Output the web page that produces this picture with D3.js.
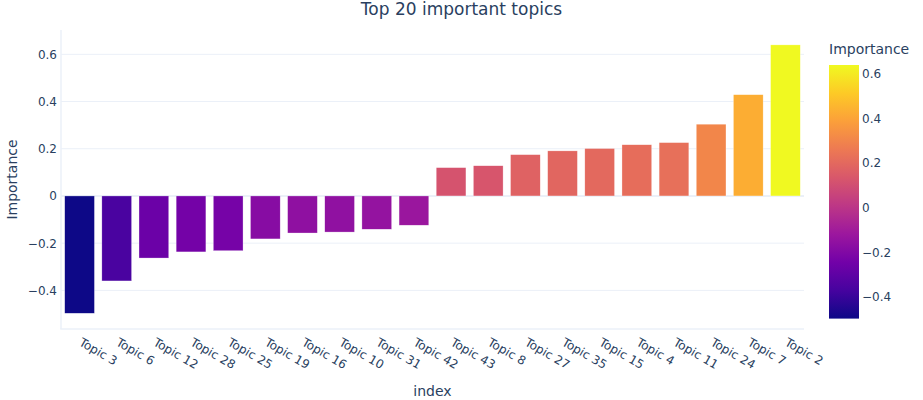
<!DOCTYPE html>
<html>
<head>
<meta charset="utf-8">
<script src="https://cdn.jsdelivr.net/npm/d3@7"></script>
<style>
  html, body { margin: 0; padding: 0; background: #fff; }
  svg { display: block; }
  text { font-family: "DejaVu Sans", Verdana, Arial, sans-serif; fill: #2a3f5f; }
</style>
</head>
<body>
<svg id="chart" width="923" height="400"></svg>
<script>
const topics = ["Topic 3","Topic 6","Topic 12","Topic 28","Topic 25","Topic 19","Topic 16","Topic 10","Topic 31","Topic 42",
                "Topic 43","Topic 8","Topic 27","Topic 35","Topic 15","Topic 4","Topic 11","Topic 24","Topic 7","Topic 2"];
const importance = [-0.497,-0.360,-0.263,-0.237,-0.232,-0.182,-0.157,-0.153,-0.141,-0.124,
                    0.120,0.128,0.175,0.191,0.201,0.217,0.226,0.304,0.429,0.640];
const yTicks = [-0.4,-0.2,0,0.2,0.4,0.6];
const cbTicks = [-0.4,-0.2,0,0.2,0.4,0.6];
const plasma = ["#0d0887","#46039f","#7201a8","#9c179e","#bd3786","#d8576b","#ed7953","#fb9f3a","#fdca26","#f0f921"];

const svg = d3.select("#chart");
const L = 61, R = 804, T = 30, B = 329;

const x = d3.scaleBand().domain(topics).range([L, R]).paddingInner(0.2).paddingOuter(0.1);
const y = d3.scaleLinear().domain([-0.5636, 0.703]).range([B, T]);

const cmin = d3.min(importance), cmax = d3.max(importance);
const stops = plasma.map((c, i) => cmin + (cmax - cmin) * i / (plasma.length - 1));
const color = d3.scaleLinear().domain(stops).range(plasma).interpolate(d3.interpolateRgb).clamp(true);

const fmt = v => v === 0 ? "0" : d3.format(".1f")(v).replace("-", "\u2212");

// gridlines
svg.append("g").selectAll("line").data(yTicks.filter(v => v !== 0)).join("line")
  .attr("x1", L).attr("x2", R)
  .attr("y1", d => y(d)).attr("y2", d => y(d))
  .attr("stroke", "#EBF0F8").attr("stroke-width", 1);

// zero line
svg.append("line").attr("x1", L).attr("x2", R).attr("y1", y(0)).attr("y2", y(0))
  .attr("stroke", "#EBF0F8").attr("stroke-width", 2);

// axis lines
svg.append("line").attr("x1", L).attr("x2", L).attr("y1", T).attr("y2", B)
  .attr("stroke", "#EBF0F8").attr("stroke-width", 1.5);
svg.append("line").attr("x1", L - 0.75).attr("x2", R).attr("y1", B).attr("y2", B)
  .attr("stroke", "#EBF0F8").attr("stroke-width", 1.5);

// bars
svg.append("g").selectAll("rect").data(topics).join("rect")
  .attr("x", d => x(d))
  .attr("width", x.bandwidth())
  .attr("y", (d, i) => y(Math.max(0, importance[i])))
  .attr("height", (d, i) => Math.abs(y(importance[i]) - y(0)))
  .attr("fill", (d, i) => color(importance[i]))
  .attr("stroke", "rgba(255,255,255,0.6)")
  .attr("stroke-width", 0.5);

// y axis tick labels
const yAxis = d3.axisLeft(y).tickValues(yTicks).tickSize(0).tickPadding(4).tickFormat(fmt);
const gy = svg.append("g").attr("transform", `translate(${L - 0},0)`).call(yAxis);
gy.select(".domain").remove();
gy.selectAll("text").style("font-size", "12px").attr("fill", "#2a3f5f")
  .style("font-family", '"DejaVu Sans", Verdana, sans-serif');

// x axis tick labels (rotated)
const xAxis = d3.axisBottom(x).tickSize(0).tickPadding(0);
const gx = svg.append("g").attr("transform", `translate(0,${B})`).call(xAxis);
gx.select(".domain").remove();
gx.selectAll(".tick text")
  .style("font-size", "12px").attr("fill", "#2a3f5f")
  .style("font-family", '"DejaVu Sans", Verdana, sans-serif')
  .attr("text-anchor", "start")
  .attr("x", 0).attr("y", 0).attr("dy", "0.74em")
  .attr("transform", "translate(3,8) rotate(30)");

// axis titles
svg.append("text").attr("x", (L + R) / 2).attr("y", 396).attr("text-anchor", "middle")
  .style("font-size", "14px").text("index");
svg.append("text").attr("transform", `translate(17,${(T + B) / 2}) rotate(-90)`).attr("text-anchor", "middle")
  .style("font-size", "14px").text("Importance");

// title
svg.append("text").attr("x", 461.5).attr("y", 15).attr("text-anchor", "middle")
  .style("font-size", "17px").text("Top 20 important topics");

// colorbar
const cbX = 829, cbW = 30, cbTop = 65, cbBot = 318.6;
const defs = svg.append("defs");
const grad = defs.append("linearGradient").attr("id", "cbgrad")
  .attr("x1", "0").attr("y1", "1").attr("x2", "0").attr("y2", "0");
grad.selectAll("stop").data(plasma).join("stop")
  .attr("offset", (d, i) => i / (plasma.length - 1))
  .attr("stop-color", d => d);
svg.append("rect").attr("x", cbX).attr("y", cbTop).attr("width", cbW).attr("height", cbBot - cbTop)
  .attr("fill", "url(#cbgrad)");
const cy = d3.scaleLinear().domain([cmin, cmax]).range([cbBot, cbTop]);
const cbAxis = d3.axisRight(cy).tickValues(cbTicks).tickSize(0).tickPadding(3).tickFormat(fmt);
const gcb = svg.append("g").attr("transform", `translate(${cbX + cbW},0)`).call(cbAxis);
gcb.select(".domain").remove();
gcb.selectAll("text").style("font-size", "12px").attr("fill", "#2a3f5f")
  .style("font-family", '"DejaVu Sans", Verdana, sans-serif');
svg.append("text").attr("x", cbX).attr("y", 54).style("font-size", "14px").text("Importance");
</script>
</body>
</html>
